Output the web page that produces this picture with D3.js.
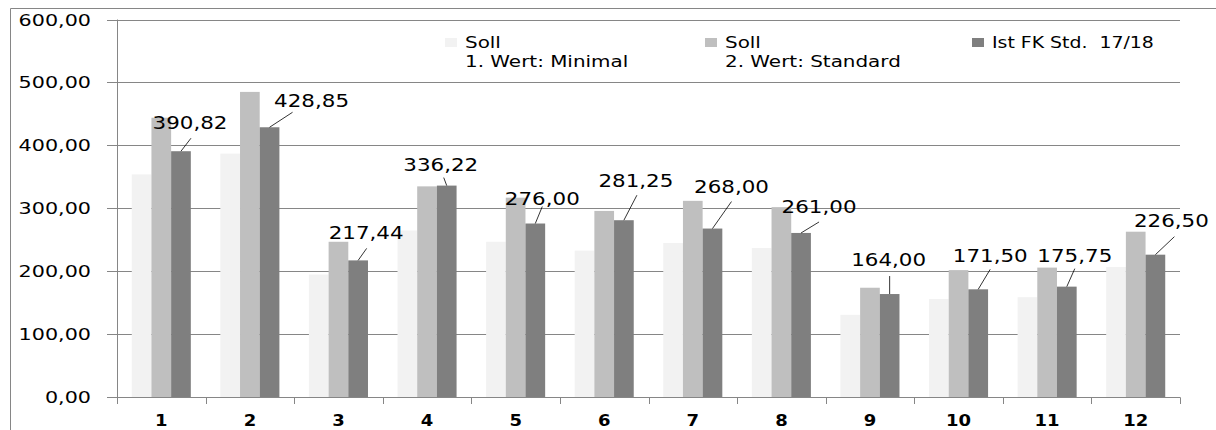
<!DOCTYPE html>
<html>
<head>
<meta charset="utf-8">
<script src="https://cdn.jsdelivr.net/npm/d3@7"></script>
<style>
  html, body { margin: 0; padding: 0; background: #fff; }
  svg { display: block; }
  text { font-family: "DejaVu Sans", Verdana, sans-serif; fill: #000; white-space: pre; }
</style>
</head>
<body>
<svg id="chart" width="1216" height="430"></svg>
<script>
// ---- data ----
const categories = ["1","2","3","4","5","6","7","8","9","10","11","12"];
const sollMinimal = [354, 387, 195, 265, 247, 233, 245, 237, 131, 156, 159, 207];
const sollStandard = [444, 485, 247, 335, 317, 296, 312, 302, 174, 202, 206, 263];
const istFK = [390.82, 428.85, 217.44, 336.22, 276.00, 281.25, 268.00, 261.00, 164.00, 171.50, 175.75, 226.50];
const yTicks = [0, 100, 200, 300, 400, 500, 600];
const seriesNames = ["Soll\n1. Wert: Minimal", "Soll\n2. Wert: Standard", "Ist FK Std.  17/18"];

// ---- layout / style (not data) ----
const colors = ["#f2f2f2", "#bfbfbf", "#7f7f7f"];
const labelOffsets = [ // [text dx, text dy, line end dx, line end dy] relative to bar top centre
  [9, -22, 10, -13], [42, -20, 23, -15], [8, -21, 8.5, -12], [-6, -15, -3, -8],
  [7, -19, 7, -17], [12, -33, 13, -25], [19, -36, 19, -27], [18, -20, 18, -11],
  [-1, -28, 0, -18], [12, -27, 12, -20], [8, -25, 8, -18], [16, -28, 19, -18]
];
const legendX = [445, 705, 972];

const svg = d3.select("#chart");
const fmt = v => d3.format(".2f")(v).replace(".", ",");

const y = d3.scaleLinear().domain([0, 600]).range([397.3, 19.5]);
const x = d3.scaleBand().domain(categories).range([117, 1180]).paddingInner(0).paddingOuter(0);
const xs = d3.scaleBand().domain([0, 1, 2]).range([0, x.bandwidth()]).paddingInner(0).paddingOuter(0.75);

function stext(sel, px, py, sx) {
  return sel.attr("transform", `translate(${px},${py}) scale(${sx},1)`);
}

// chart border
svg.append("path").attr("d", "M10.5,430 V8.5 H1216")
  .attr("fill", "none").attr("stroke", "#868686").attr("stroke-width", 1);

// gridlines
svg.append("g").selectAll("line").data(yTicks).join("line")
  .attr("x1", 107).attr("x2", 1180)
  .attr("y1", d => Math.round(y(d)) + 0.5).attr("y2", d => Math.round(y(d)) + 0.5)
  .attr("stroke", "#868686").attr("stroke-width", 1);

// y tick labels
svg.append("g").selectAll("text").data(yTicks).join("text")
  .each(function(d) { stext(d3.select(this), 91, y(d) + 6, 1.38); })
  .attr("text-anchor", "end").attr("font-size", 15).text(d => fmt(d));

// bars
const series = [sollMinimal, sollStandard, istFK];
series.forEach((vals, si) => {
  svg.append("g").selectAll("rect").data(vals).join("rect")
    .attr("x", (d, i) => x(categories[i]) + xs(si))
    .attr("width", xs.bandwidth())
    .attr("y", d => y(d))
    .attr("height", d => y(0) - y(d))
    .attr("fill", colors[si]);
});

// axes lines
svg.append("line").attr("x1", 117.5).attr("x2", 117.5).attr("y1", y(600)).attr("y2", 404)
  .attr("stroke", "#868686");
svg.append("line").attr("x1", 107).attr("x2", 1180).attr("y1", Math.round(y(0)) + 0.5).attr("y2", Math.round(y(0)) + 0.5)
  .attr("stroke", "#868686");
const bounds = categories.map(c => x(c)).concat([x.range()[1]]);
svg.append("g").selectAll("line").data(bounds).join("line")
  .attr("x1", d => Math.round(d) + 0.5).attr("x2", d => Math.round(d) + 0.5)
  .attr("y1", y(0)).attr("y2", 404).attr("stroke", "#868686");

// x labels
svg.append("g").selectAll("text").data(categories).join("text")
  .each(function(d) { stext(d3.select(this), x(d) + x.bandwidth() / 2, 426, 1.2); })
  .attr("text-anchor", "middle").attr("font-size", 15).attr("font-weight", "bold").text(d => d);

// data labels with leader lines
const lbl = svg.append("g");
istFK.forEach((v, i) => {
  const bx = x(categories[i]) + xs(2) + xs.bandwidth() / 2;
  const by = y(v);
  const o = labelOffsets[i];
  lbl.append("line").attr("x1", bx).attr("y1", by).attr("x2", bx + o[2]).attr("y2", by + o[3])
    .attr("stroke", "#000").attr("stroke-width", 0.8);
  stext(lbl.append("text"), bx + o[0], by + o[1], 1.26)
    .attr("text-anchor", "middle").attr("font-size", 17).text(fmt(v));
});

// legend
const lg = svg.append("g");
seriesNames.forEach((name, i) => {
  lg.append("rect").attr("x", legendX[i]).attr("y", 38).attr("width", 12).attr("height", 9).attr("fill", colors[i]);
  name.split("\n").forEach((line, li) => {
    stext(lg.append("text"), legendX[i] + 20, 48 + li * 19, i === 2 ? 1.26 : 1.33)
      .attr("font-size", 15).text(line);
  });
});
</script>
</body>
</html>
